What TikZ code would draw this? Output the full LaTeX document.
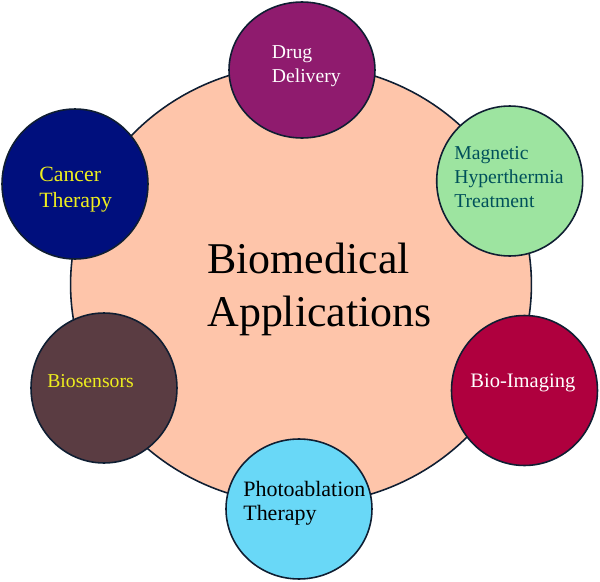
\documentclass[tikz,border=0pt]{standalone}
\usepackage{fontspec}
\usetikzlibrary{shapes.geometric}
\setmainfont{Liberation Serif}
\definecolor{hubfill}{RGB}{254,197,170}
\definecolor{rimcol}{RGB}{15,30,50}
\definecolor{drugfill}{RGB}{143,27,110}
\definecolor{magfill}{RGB}{157,228,160}
\definecolor{magtext}{RGB}{0,80,90}
\definecolor{imagefill}{RGB}{175,0,62}
\definecolor{photofill}{RGB}{105,216,247}
\definecolor{sensorfill}{RGB}{90,60,66}
\definecolor{cancerfill}{RGB}{0,15,125}
\definecolor{labelyellow}{RGB}{238,238,30}
\tikzset{
  px/.style={x=0.02cm,y=-0.02cm},
  topic/.style={ellipse,draw=rimcol,line width=0.9pt,inner sep=0pt,minimum width=2.92cm,minimum height=3cm},
  textline/.style={anchor=base west,align=left,inner sep=0pt,font=\fontsize{11.2pt}{13.6pt}\selectfont},
}
\begin{document}
\begin{tikzpicture}[px]
\useasboundingbox (0,0) rectangle (600,582);
\node (hub) [topic,fill=hubfill,minimum width=9.22cm,minimum height=8.8cm] at (301,284.5) {};
\node (title) [textline,font=\fontsize{25pt}{30pt}\selectfont] at (207,326) {Biomedical\\Applications};
\node (drug) [topic,fill=drugfill,minimum height=2.72cm] at (302,70) {};
\node (magnetic) [topic,fill=magfill] at (509.7,181) {};
\node (imaging) [topic,fill=imagefill] at (524.5,390.5) {};
\node (photo) [topic,fill=photofill,minimum height=2.8cm] at (299,509) {};
\node (sensors) [topic,fill=sensorfill] at (104,388) {};
\node (cancer) [topic,fill=cancerfill] at (75,184) {};
\node (drugtext) [textline,text=white] at (271.5,82) {Drug\\Delivery};
\node (magtext) [textline,text=magtext] at (454,207) {Magnetic\\Hyperthermia\\Treatment};
\node (imagetext) [textline,text=white,font=\fontsize{11.7pt}{14pt}\selectfont] at (470,387.5) {Bio-Imaging};
\node (phototext) [textline,text=black,font=\fontsize{12.5pt}{13.6pt}\selectfont] at (243,520) {Photoablation\\Therapy};
\node (sensortext) [textline,text=labelyellow] at (47,387) {Biosensors};
\node (cancertext) [textline,text=labelyellow,font=\fontsize{12.4pt}{14.7pt}\selectfont] at (39,207) {Cancer\\Therapy};
\end{tikzpicture}
\end{document}
